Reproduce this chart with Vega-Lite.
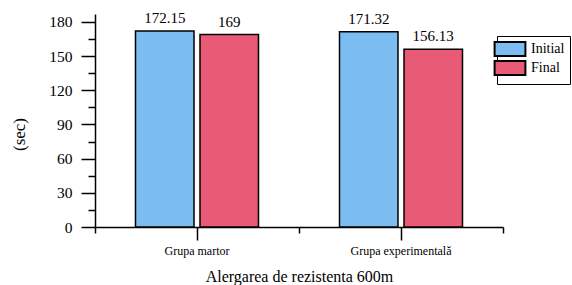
{
  "$schema": "https://vega.github.io/schema/vega-lite/v6.json",
  "width": 408,
  "height": 213,
  "autosize": {"type": "none"},
  "padding": {"left": 95, "top": 14, "right": 69, "bottom": 58},
  "background": "white",
  "config": {
    "view": {"stroke": null},
    "font": "'Liberation Serif', serif",
    "text": {"font": "'Liberation Serif', serif"},
    "axis": {"grid": false, "domainColor": "black", "tickColor": "black", "domainWidth": 1.5, "tickWidth": 1.5, "labelColor": "black", "titleColor": "black", "labelFont": "'Liberation Serif', serif", "titleFont": "'Liberation Serif', serif", "titleFontWeight": "normal"},
    "legend": {"labelFont": "'Liberation Serif', serif", "labelColor": "black"}
  },
  "data": {
    "values": [
      {"group": "Grupa martor", "phase": "Initial", "value": 172.15, "label": "172.15"},
      {"group": "Grupa martor", "phase": "Final", "value": 169, "label": "169"},
      {"group": "Grupa experimentală", "phase": "Initial", "value": 171.32, "label": "171.32"},
      {"group": "Grupa experimentală", "phase": "Final", "value": 156.13, "label": "156.13"}
    ]
  },
  "resolve": {"axis": {"x": "independent", "y": "independent"}},
  "layer": [
    {
      "mark": {"type": "bar", "stroke": "black", "strokeWidth": 1.5},
      "encoding": {
        "x": {
          "field": "group", "type": "nominal", "sort": ["Grupa martor", "Grupa experimentală"],
          "scale": {"paddingInner": 0, "paddingOuter": 0},
          "axis": {"orient": "bottom", "title": "Alergarea de rezistenta 600m", "labelAngle": 0, "tickSize": 13, "labelPadding": 5, "labelFontSize": 12, "titleFontSize": 16, "titlePadding": 12}
        },
        "xOffset": {
          "field": "phase", "type": "nominal", "sort": ["Initial", "Final"],
          "scale": {"paddingInner": 0.093, "paddingOuter": 0.628}
        },
        "y": {
          "field": "value", "type": "quantitative",
          "scale": {"domain": [0, 187], "nice": false, "zero": true},
          "axis": {"orient": "left", "title": "(sec)", "values": [0, 30, 60, 90, 120, 150, 180], "tickSize": 14, "labelPadding": 9, "labelFontSize": 15.5, "titleFontSize": 17, "titlePadding": 20, "titleY": 120}
        },
        "fill": {
          "field": "phase", "type": "nominal", "sort": ["Initial", "Final"],
          "scale": {"domain": ["Initial", "Final"], "range": ["#7BBDF1", "#E85A76"]},
          "legend": {
            "title": null, "orient": "none", "legendX": 402, "legendY": 22,
            "strokeColor": "black", "padding": 5,
            "symbolType": "M-2.2,-1H2.2V1H-2.2Z", "symbolSize": 196,
            "symbolStrokeColor": "black", "symbolStrokeWidth": 2, "symbolOpacity": 1,
            "labelFontSize": 14, "labelOffset": 13, "rowPadding": -7
          }
        }
      }
    },
    {
      "mark": {"type": "text", "baseline": "bottom", "dy": -5, "fontSize": 15, "color": "black", "font": "'Liberation Serif', serif"},
      "encoding": {
        "x": {
          "field": "group", "type": "nominal", "sort": ["Grupa martor", "Grupa experimentală"],
          "axis": {"orient": "bottom", "title": null, "labels": false, "domain": false, "tickBand": "extent", "tickSize": 6}
        },
        "xOffset": {"field": "phase", "type": "nominal", "sort": ["Initial", "Final"]},
        "y": {
          "field": "value", "type": "quantitative",
          "axis": {"orient": "left", "title": null, "labels": false, "domain": false, "values": [15, 45, 75, 105, 135, 165], "tickSize": 7}
        },
        "text": {"field": "label", "type": "nominal"}
      }
    }
  ]
}
